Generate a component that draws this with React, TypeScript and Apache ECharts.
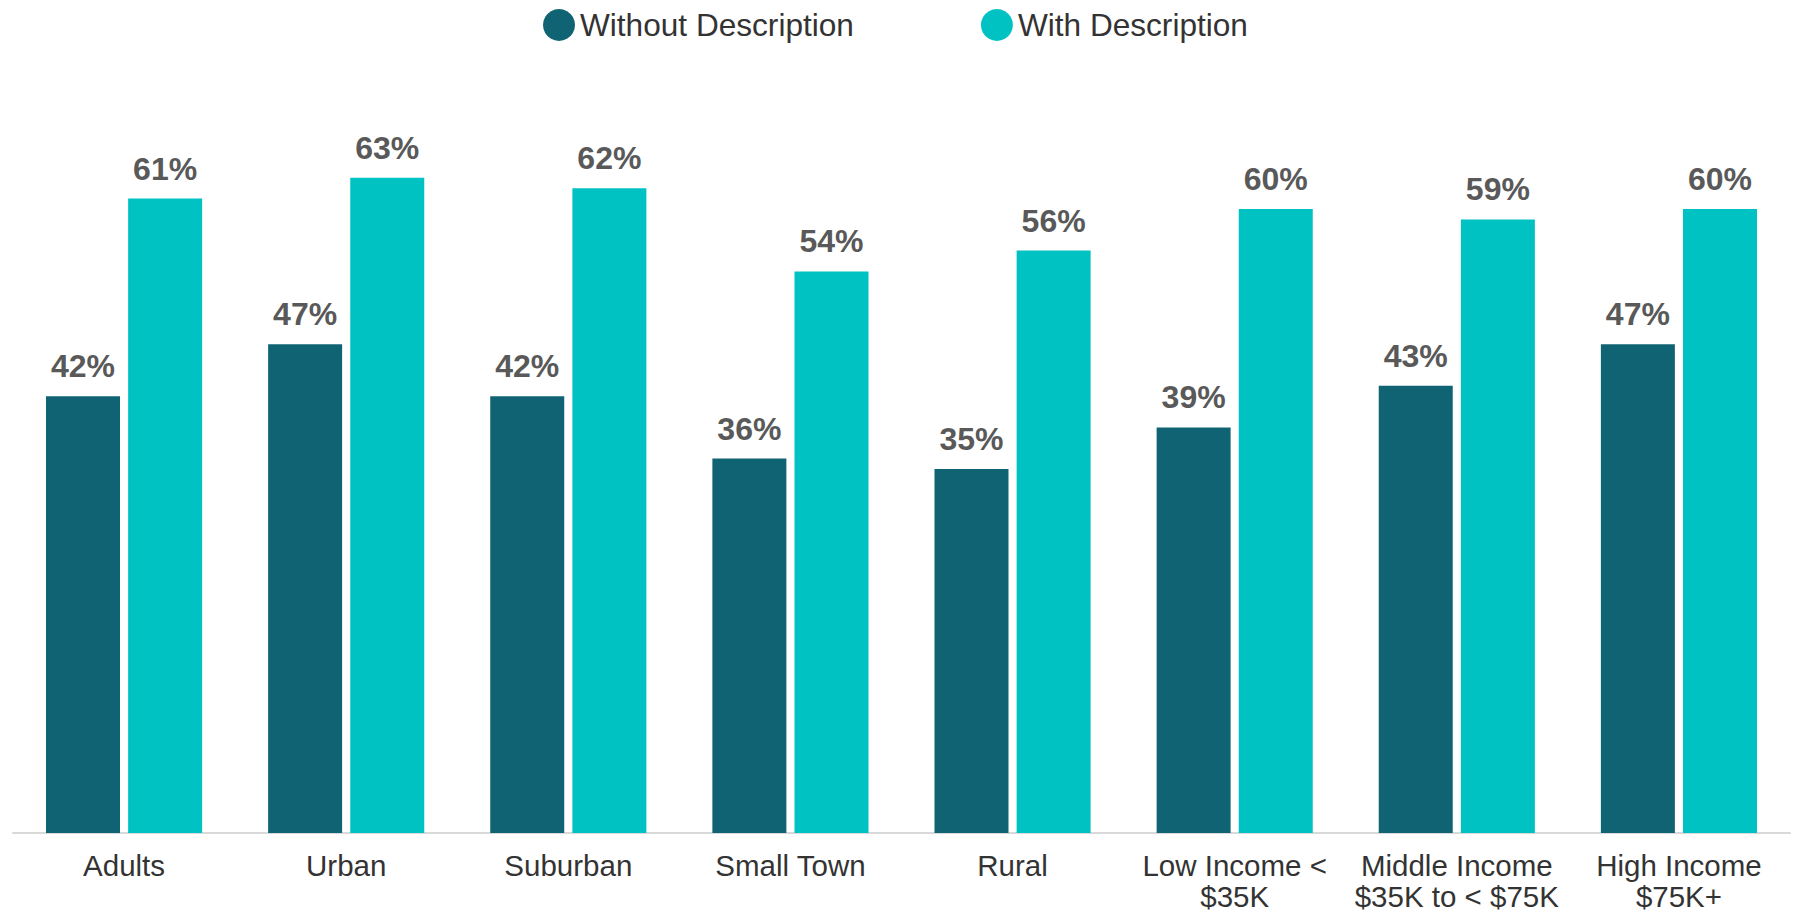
import React, { useEffect, useRef } from "react";
import * as echarts from "echarts";

const categories = [
  "Adults",
  "Urban",
  "Suburban",
  "Small Town",
  "Rural",
  "Low Income <\n$35K",
  "Middle Income\n$35K to < $75K",
  "High Income\n$75K+",
];
const withoutDescription = [42, 47, 42, 36, 35, 39, 43, 47];
const withDescription = [61, 63, 62, 54, 56, 60, 59, 60];
const seriesNames = ["Without Description", "With Description"];

const FONT = "'Liberation Sans', Arial, Helvetica, sans-serif";

export default function App() {
  const ref = useRef<HTMLDivElement>(null);
  useEffect(() => {
    if (!ref.current) return;
    const chart = echarts.init(ref.current, undefined, { renderer: "svg" });
    const label = {
      show: true,
      position: "top",
      distance: 14,
      formatter: "{c}%",
      color: "#595959",
      fontSize: 32,
      fontWeight: "bold",
      fontFamily: FONT,
    };
    chart.setOption({
      animation: false,
      backgroundColor: "#ffffff",
      legend: {
        data: seriesNames,
        left: 538,
        top: 4,
        icon: "circle",
        itemWidth: 32,
        itemHeight: 32,
        itemGap: 127,
        textStyle: { fontSize: 31.6, color: "#333333", fontFamily: FONT },
      },
      grid: { left: 13, right: 10, top: 105, bottom: 82, containLabel: false },
      xAxis: {
        type: "category",
        data: categories,
        axisLine: { show: true, lineStyle: { color: "#d9d9d9", width: 2 } },
        axisTick: { show: false },
        axisLabel: {
          interval: 0,
          margin: 17,
          fontSize: 29.5,
          lineHeight: 31,
          color: "#333333",
          fontFamily: FONT,
        },
      },
      yAxis: {
        type: "value",
        min: 0,
        max: 70,
        show: false,
        splitLine: { show: false },
      },
      series: [
        {
          name: seriesNames[0],
          type: "bar",
          data: withoutDescription,
          barWidth: 74,
          barGap: "11%",
          itemStyle: { color: "#106373" },
          label,
        },
        {
          name: seriesNames[1],
          type: "bar",
          data: withDescription,
          barWidth: 74,
          itemStyle: { color: "#00c2c3" },
          label,
        },
      ],
    });
    return () => chart.dispose();
  }, []);
  return (
    <div
      ref={ref}
      style={{ position: "absolute", left: 0, top: 0, width: 1800, height: 915 }}
    />
  );
}
